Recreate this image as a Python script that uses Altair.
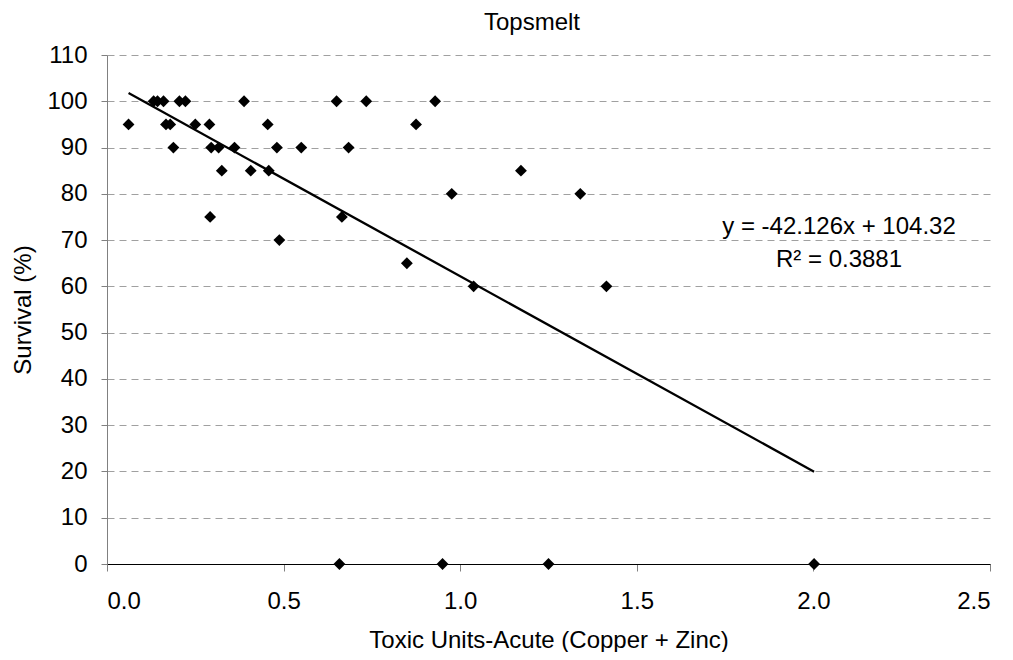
import altair as alt
import pandas as pd

# Data
toxic_units = [
    0.132, 0.143, 0.160, 0.205, 0.222, 0.388, 0.650, 0.734, 0.929,
    0.061, 0.167, 0.179, 0.250, 0.290, 0.455, 0.875,
    0.188, 0.295, 0.316, 0.361, 0.481, 0.550, 0.684,
    0.325, 0.407, 0.458, 1.172,
    0.976, 1.340,
    0.292, 0.665,
    0.488,
    0.849,
    1.038, 1.414,
    0.658, 0.950, 1.250, 2.002,
]
survival = [
    100, 100, 100, 100, 100, 100, 100, 100, 100,
    95, 95, 95, 95, 95, 95, 95,
    90, 90, 90, 90, 90, 90, 90,
    85, 85, 85, 85,
    80, 80,
    75, 75,
    70,
    65,
    60, 60,
    0, 0, 0, 0,
]
chart_title = "Topsmelt"
x_title = "Toxic Units-Acute (Copper + Zinc)"
y_title = "Survival (%)"
equation_lines = ["y = -42.126x + 104.32", "R\u00b2 = 0.3881"]
x_ticks = [0.0, 0.5, 1.0, 1.5, 2.0, 2.5]
y_ticks = [0, 10, 20, 30, 40, 50, 60, 70, 80, 90, 100, 110]

FONT = "Liberation Sans"

df = pd.DataFrame({"tu": toxic_units, "surv": survival})

x_enc = alt.X(
    "tu:Q",
    title=x_title,
    scale=alt.Scale(domain=[0, 2.5], nice=False, zero=False),
    axis=alt.Axis(
        values=x_ticks, format=".1f", grid=False,
        domainColor="#000000", domainWidth=1,
        tickColor="#808080", tickSize=7, tickWidth=1,
        labelFontSize=24, labelPadding=18, labelColor="#000000",
        titleFontSize=24, titleFontWeight="normal", titleColor="#000000",
        titlePadding=15, labelFont=FONT, titleFont=FONT,
    ),
)
y_enc = alt.Y(
    "surv:Q",
    title=y_title,
    scale=alt.Scale(domain=[0, 110], nice=False),
    axis=alt.Axis(
        values=y_ticks, grid=True,
        gridColor="#a0a0a0", gridDash=[7, 5], gridWidth=1,
        domainColor="#808080", domainWidth=1,
        tickColor="#808080", tickSize=6, tickWidth=1,
        labelFontSize=24, labelPadding=14, labelColor="#000000",
        titleFontSize=24, titleFontWeight="normal", titleColor="#000000",
        titlePadding=11, labelFont=FONT, titleFont=FONT,
    ),
)

points = alt.Chart(df).mark_point(
    shape="diamond", filled=True, color="#000000", size=140, opacity=1
).encode(x=x_enc, y=y_enc)

trend = alt.Chart(df).transform_regression(
    "tu", "surv", method="linear"
).mark_line(color="#000000", strokeWidth=2.3).encode(x="tu:Q", y="surv:Q")

eq = alt.Chart(pd.DataFrame({"t": [equation_lines]})).mark_text(
    font=FONT, fontSize=24, color="#000000", align="center",
    baseline="alphabetic", lineHeight=33,
).encode(x=alt.value(732), y=alt.value(179), text="t")

title_txt = alt.Chart(pd.DataFrame({"t": [chart_title]})).mark_text(
    font=FONT, fontSize=24, color="#000000", align="center",
    baseline="alphabetic",
).encode(x=alt.value(425), y=alt.value(-25), text="t")

chart = alt.layer(points, trend, eq, title_txt).properties(
    width=883, height=509,
    padding={"left": 99, "top": 47, "right": 15, "bottom": 88},
    autosize=alt.AutoSizeParams(type="none"),
    background="#ffffff",
).configure_view(stroke=None)

chart.save("out.html", embed_options={"renderer": "svg", "actions": False})
